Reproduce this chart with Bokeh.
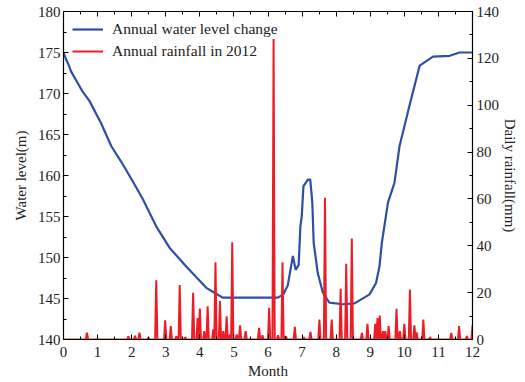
from bokeh.plotting import figure
from bokeh.models import (LinearAxis, Range1d, FixedTicker, Legend, LegendItem)
from bokeh.embed import file_html
from bokeh.resources import INLINE
import numpy as np

# Water level (m) by month
level_month = [0.0, 0.08, 0.13, 0.22, 0.55, 0.76, 1.1, 1.4, 1.69, 2.03, 2.33, 2.52, 2.72,
               3.11, 3.6, 4.19, 4.43, 4.67, 6.29, 6.45, 6.58, 6.73, 6.81, 6.9, 6.95, 6.99,
               7.04, 7.17, 7.24, 7.3, 7.34, 7.46, 7.61, 7.8, 8.2, 8.54, 8.98, 9.17, 9.27,
               9.34, 9.52, 9.71, 9.86, 10.15, 10.45, 10.84, 11.33, 11.62, 12.0]
level_value = [175.0, 174.1, 173.7, 172.7, 170.3, 169.1, 166.4, 163.6, 161.7, 159.3, 157.1,
               155.5, 153.8, 151.2, 148.9, 146.3, 145.7, 145.1, 145.1, 145.5, 146.6, 150.2,
               148.5, 149.1, 153.8, 155.0, 158.7, 159.5, 159.5, 156.7, 151.8, 148.1, 145.7,
               144.5, 144.3, 144.4, 145.5, 146.9, 148.9, 151.8, 156.7, 159.1, 163.6, 168.5,
               173.4, 174.5, 174.6, 175.0, 175.0]

# Daily rainfall (mm): rainy days given by month position and amount
rain_month = [0.69, 1.91, 2.11, 2.23, 2.5, 2.71, 2.97, 3.15, 3.31, 3.41, 3.58, 3.79, 3.92,
              4.01, 4.12, 4.24, 4.38, 4.47, 4.6, 4.69, 4.79, 4.87, 4.96, 5.07, 5.19, 5.36,
              5.75, 5.85, 6.02, 6.17, 6.29, 6.41, 6.53, 6.8, 7.05, 7.24, 7.52, 7.68, 7.86,
              8.13, 8.31, 8.46, 8.75, 8.91, 9.15, 9.22, 9.28, 9.37, 9.45, 9.55, 9.78, 9.88,
              10.0, 10.17, 10.3, 10.37, 10.57, 10.74, 11.38, 11.62, 11.85, 12.0]
rain_value = [2.9, 1.4, 1.6, 2.9, 0.9, 25.3, 8.2, 5.7, 1.5, 23.3, 1.0, 19.9, 9.2,
              13.2, 3.6, 14.2, 4.3, 33.0, 16.4, 3.6, 9.9, 2.2, 41.5, 2.2, 6.0, 3.6,
              5.0, 1.8, 13.5, 128.3, 1.8, 33.0, 1.5, 5.4, 1.0, 3.3, 8.5, 60.5, 8.5,
              21.6, 32.3, 43.1, 2.8, 6.7, 6.7, 9.2, 10.2, 3.6, 3.6, 5.7, 13.1, 3.6,
              6.7, 21.3, 6.0, 3.0, 8.5, 1.0, 2.8, 5.7, 1.5, 6.0]

days_per_month = 30.5
n_days = int(12 * days_per_month) + 1
rain_daily = np.zeros(n_days)
for m, v in zip(rain_month, rain_value):
    d = min(int(round(m * days_per_month)), n_days - 1)
    rain_daily[d] = max(rain_daily[d], v)
rain_x = np.arange(n_days) / days_per_month

FONT = "Liberation Serif"
BLUE = "#2f4fa6"
RED = "#ee1c25"

p = figure(width=521, height=381, output_backend="svg", toolbar_location=None,
           x_range=Range1d(0, 12), y_range=Range1d(140, 180),
           min_border_left=63, min_border_right=48, min_border_top=11, min_border_bottom=40)
p.extra_y_ranges = {"rain": Range1d(0, 140)}
p.grid.visible = False
p.outline_line_color = "black"
p.outline_line_width = 1.2
p.background_fill_color = "white"
p.border_fill_color = "white"

l1 = p.line(level_month, level_value, color=BLUE, line_width=2.2)
l2 = p.line(rain_x, rain_daily, color=RED, line_width=2.0, y_range_name="rain")


def style_axis(ax, major, minor):
    ax.ticker = FixedTicker(ticks=major, minor_ticks=minor)
    ax.major_tick_in = 5
    ax.major_tick_out = 0
    ax.minor_tick_in = 3
    ax.minor_tick_out = 0
    ax.major_tick_line_color = "black"
    ax.minor_tick_line_color = "black"
    ax.axis_line_color = "black"
    ax.major_label_text_font = FONT
    ax.major_label_text_font_size = "15px"
    ax.major_label_text_color = "#222222"
    ax.axis_label_text_font = FONT
    ax.axis_label_text_font_size = "15px"
    ax.axis_label_text_font_style = "normal"
    ax.axis_label_text_color = "#222222"


x_major = list(range(0, 13))
x_minor = [i + 0.5 for i in range(12)]
style_axis(p.xaxis[0], x_major, x_minor)
p.xaxis[0].axis_label = "Month"
p.xaxis[0].major_label_standoff = 7
p.xaxis[0].axis_label_standoff = 3

style_axis(p.yaxis[0], list(range(140, 181, 5)), [142.5 + 5 * i for i in range(8)])
p.yaxis[0].axis_label = "Water level(m)"
p.yaxis[0].major_label_standoff = 3
p.yaxis[0].axis_label_standoff = 6

ry = LinearAxis(y_range_name="rain", axis_label="Daily rainfall(mm)")
style_axis(ry, list(range(0, 141, 20)), [10 + 20 * i for i in range(7)])
ry.major_label_standoff = 4
ry.axis_label_standoff = 0
p.add_layout(ry, "right")

top = LinearAxis()
style_axis(top, x_major, x_minor)
top.major_label_overrides = {t: "" for t in x_major}
top.major_label_standoff = 0
p.add_layout(top, "above")

legend = Legend(items=[LegendItem(label="Annual water level change", renderers=[l1]),
                       LegendItem(label="Annual rainfall in 2012", renderers=[l2])],
                location="top_left")
legend.label_text_font = FONT
legend.label_text_font_size = "15.5px"
legend.label_text_color = "#222222"
legend.border_line_alpha = 0
legend.background_fill_alpha = 0
legend.glyph_width = 31
legend.glyph_height = 16
legend.label_height = 16
legend.spacing = 4
legend.margin = 4
legend.padding = 5
legend.label_standoff = 9
p.add_layout(legend)

open("out.html", "w").write(file_html(p, INLINE))
